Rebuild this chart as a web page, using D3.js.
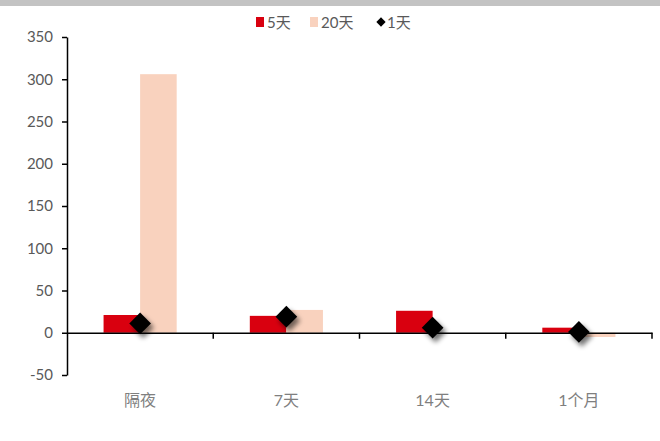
<!DOCTYPE html>
<html>
<head>
<meta charset="utf-8">
<script src="https://cdn.jsdelivr.net/npm/d3@7"></script>
<style>
  body { margin: 0; background: #fff; }
  svg { display: block; font-family: Lato, "Noto Sans CJK SC", sans-serif; }
</style>
</head>
<body>
<svg id="chart" width="660" height="441"></svg>
<script>
// Tenor categories and series values
const categories = ["隔夜", "7天", "14天", "1个月"];
const series5d = [21, 20, 26, 6];
const series20d = [306, 27, 0, -5];
const series1d = [11, 19, 6, 1];
const yTicks = [-50, 0, 50, 100, 150, 200, 250, 300, 350];
const legendLabels = ["5天", "20天", "1天"];

const colors = { red: "#d9000f", peach: "#f9d2be", diamond: "#000" };

const svg = d3.select("#chart");
const W = 660, H = 441;
const margin = { left: 67, right: 8, top: 37, bottom: 66 };

// Thin gray band across the top
svg.append("rect").attr("x", 0).attr("y", 0).attr("width", W).attr("height", 6).attr("fill", "#c3c3c3");

const defs = svg.append("defs");
const f = defs.append("filter").attr("id", "shadow").attr("x", "-50%").attr("y", "-50%").attr("width", "200%").attr("height", "200%");
f.append("feGaussianBlur").attr("in", "SourceAlpha").attr("stdDeviation", 2.5);
f.append("feOffset").attr("dx", 3).attr("dy", 4).attr("result", "ob");
f.append("feComponentTransfer").append("feFuncA").attr("type", "linear").attr("slope", 0.55);
const m = f.append("feMerge");
m.append("feMergeNode");
m.append("feMergeNode").attr("in", "SourceGraphic");

const x = d3.scaleBand().domain(categories).range([margin.left, W - margin.right]).paddingInner(0).paddingOuter(0);
const y = d3.scaleLinear().domain([-50, 350]).range([H - margin.bottom, margin.top]);

const bw = x.bandwidth() / 4;

// Bars
const g = svg.append("g");
categories.forEach((c, i) => {
  const cx = x(c) + x.bandwidth() / 2;
  const v1 = series5d[i], v2 = series20d[i];
  g.append("rect").attr("x", cx - bw).attr("width", bw)
    .attr("y", y(Math.max(0, v1))).attr("height", Math.abs(y(v1) - y(0))).attr("fill", colors.red);
  g.append("rect").attr("x", cx).attr("width", bw)
    .attr("y", y(Math.max(0, v2))).attr("height", Math.abs(y(v2) - y(0))).attr("fill", colors.peach);
});

// Y axis
const yAxis = d3.axisLeft(y).tickValues(yTicks).tickSize(5).tickSizeOuter(0).tickFormat(d => String(d));
const ya = svg.append("g").attr("transform", `translate(${margin.left},0)`).call(yAxis);
ya.select(".domain").attr("stroke", "#000").attr("stroke-width", 1.5);
ya.selectAll(".tick line").attr("stroke", "#000").attr("stroke-width", 1.5);
ya.selectAll(".tick text").attr("x", -14).attr("font-size", 15).attr("fill", "#595959")
  .attr("font-family", "Lato, sans-serif");

// X axis at zero
const xAxis = d3.axisBottom(x).tickSize(0).tickFormat("");
const xa = svg.append("g").attr("transform", `translate(0,${y(0)})`).call(xAxis);
xa.select(".domain").attr("stroke", "#000").attr("stroke-width", 1.5);
xa.selectAll(".tick").remove();
categories.forEach(c => {
  const bx = x(c) + x.bandwidth();
  xa.append("line").attr("x1", bx).attr("x2", bx).attr("y1", 0).attr("y2", 6).attr("stroke", "#000").attr("stroke-width", 1.5);
});

// Category labels
svg.append("g").selectAll("text").data(categories).join("text")
  .attr("x", d => x(d) + x.bandwidth() / 2).attr("y", 406)
  .attr("text-anchor", "middle").attr("font-size", 16).attr("fill", "#7f7f7f")
  .text(d => d);

// 1-day diamonds with drop shadow
const diamond = d3.symbol().type(d3.symbolDiamond2).size(300);
svg.append("g").selectAll("path").data(series1d).join("path")
  .attr("d", diamond)
  .attr("transform", (d, i) => `translate(${x(categories[i]) + x.bandwidth() / 2},${y(d)})`)
  .attr("fill", colors.diamond)
  .attr("filter", "url(#shadow)");

// Legend
const lg = svg.append("g").attr("font-size", 15).attr("fill", "#595959");
lg.append("rect").attr("x", 256).attr("y", 17).attr("width", 8).attr("height", 10).attr("fill", colors.red);
lg.append("text").attr("x", 267).attr("y", 28).text(legendLabels[0]);
lg.append("rect").attr("x", 310).attr("y", 17).attr("width", 8).attr("height", 10).attr("fill", colors.peach);
lg.append("text").attr("x", 321).attr("y", 28).text(legendLabels[1]);
lg.append("path").attr("d", d3.symbol().type(d3.symbolDiamond2).size(55))
  .attr("transform", "translate(381,22)").attr("fill", "#000");
lg.append("text").attr("x", 387).attr("y", 28).text(legendLabels[2]);
</script>
</body>
</html>
